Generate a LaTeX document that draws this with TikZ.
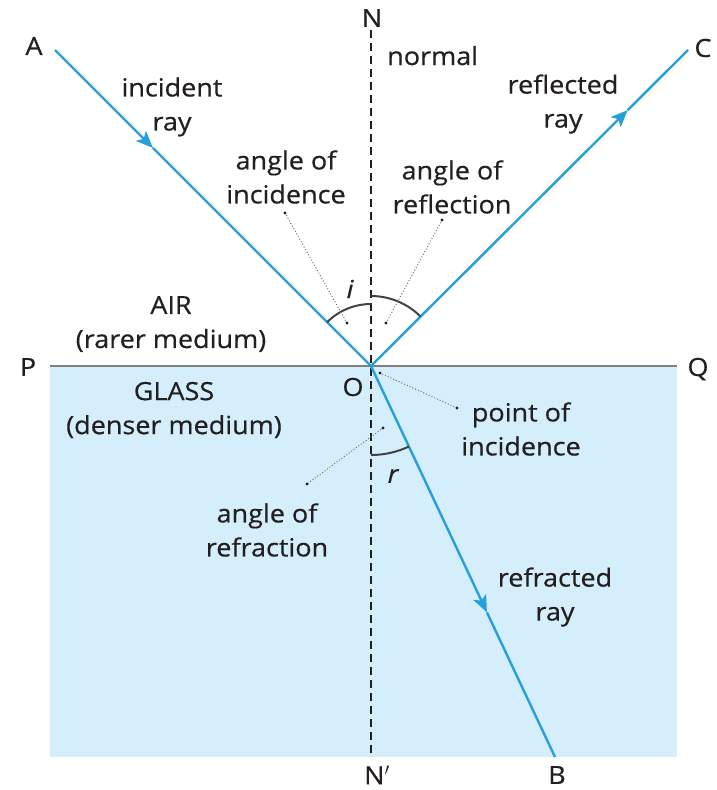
\documentclass[tikz,border=0pt]{standalone}
\usepackage{fontspec}
\setmainfont[FakeStretch=1.08, FakeBold=0.5]{Open Sans}
\usetikzlibrary{arrows.meta, calc}
\definecolor{RayBlue}{RGB}{38,160,218}
\definecolor{GlassBlue}{RGB}{213,238,251}
\definecolor{SurfaceGray}{RGB}{128,128,128}
\definecolor{InkDark}{RGB}{35,31,32}

\begin{document}
\begin{tikzpicture}[x=1pt, y=-1pt,
    lbl/.style={text=InkDark, font=\fontsize{25}{34}\selectfont, inner sep=0pt, align=center},
    ray/.style={RayBlue, line width=2.4pt},
    raytip/.style={ray, -{Stealth[length=17pt, width=14pt, inset=4pt]}},
    leader/.style={black!55, line width=1.4pt, dash pattern=on 0pt off 3pt, line cap=round},
    anglearc/.style={InkDark!85, line width=2pt}]

\useasboundingbox (0,0) rectangle (716,790);

% glass block and surface
\fill[GlassBlue] (50,366) rectangle (677,757);
\coordinate (Pend) at (50,366);
\coordinate (Qend) at (677,366);
\draw[SurfaceGray, line width=2.4pt] (Pend) -- (Qend);

% normal NN'
\coordinate (O) at (371,366);
\coordinate (Ntop) at (371,30);
\coordinate (Nbot) at (371,757);
\draw[InkDark, line width=2.4pt, dash pattern=on 8pt off 5pt] (Ntop) -- (Nbot);

% rays: A -> O -> C and O -> B
\coordinate (Aend) at (55,50);
\coordinate (Cend) at (688,50);
\coordinate (Bend) at (555,757);
\coordinate (Atip) at ($(Aend)!0.31!(O)$);
\coordinate (Ctip) at ($(O)!0.81!(Cend)$);
\coordinate (Btip) at ($(O)!0.63!(Bend)$);
\draw[raytip] (Aend) -- (Atip);
\draw[ray] (Atip) -- (O);
\draw[raytip] (O) -- (Ctip);
\draw[ray] (Ctip) -- (Cend);
\draw[raytip] (O) -- (Btip);
\draw[ray] (Btip) -- (Bend);

% angle arcs i, reflection, r
\draw[anglearc] ([shift={(225:62)}]O) arc[start angle=225, end angle=270, radius=62];
\draw[anglearc] ([shift={(270:70)}]O) arc[start angle=270, end angle=315, radius=70];
\draw[anglearc] ([shift={(90:89)}]O) arc[start angle=90, end angle=64.8, radius=89];

% leader lines
\coordinate (incOut) at (285,213);
\coordinate (incIn) at (347,323);
\coordinate (refOut) at (442,220);
\coordinate (refIn) at (386,323);
\coordinate (poiIn) at (380,373);
\coordinate (poiOut) at (457,408);
\coordinate (rfrIn) at (383,428);
\coordinate (rfrOut) at (307,484);
\draw[leader] (incOut) -- (incIn);
\draw[leader] (refOut) -- (refIn);
\draw[leader] (poiIn) -- (poiOut);
\draw[leader] (rfrIn) -- (rfrOut);
\foreach \c in {incOut,incIn,refOut,refIn,poiIn,poiOut,rfrIn,rfrOut}
    \fill[InkDark] (\c) circle (1.6pt);

% point letters
\node[lbl] (labA) at (34,46) {A};
\node[lbl] (labC) at (703,48) {C};
\node[lbl] (labN) at (372,18) {N};
\node[lbl] (labNp) at (377,775) {N$'$};
\node[lbl] (labB) at (557,775) {B};
\node[lbl] (labP) at (28,367) {P};
\node[lbl] (labQ) at (698,369) {Q};
\node[lbl] (labO) at (353,387) {O};
\node[lbl, font=\fontsize{25}{34}\selectfont\itshape] (labI) at (350,289) {i};
\node[lbl, font=\fontsize{25}{34}\selectfont\itshape] (labR) at (393,476) {r};

% text labels
\node[lbl, anchor=base west] (normal) at (387,65) {normal};
\node[lbl] (incRay) at (172,107) {incident\\ray};
\node[lbl] (refRay) at (563,104) {reflected\\ray};
\node[lbl] (angInc) at (286,177) {angle of\\incidence};
\node[lbl] (angRef) at (452,187) {angle of\\reflection};
\node[lbl] (air) at (171,324) {AIR\\(rarer medium)};
\node[lbl] (glass) at (174,410) {GLASS\\(denser medium)};
\node[lbl] (poi) at (521,429) {point of\\incidence};
\node[lbl] (angRfr) at (267,530) {angle of\\refraction};
\node[lbl] (rfrRay) at (555,597) {refracted\\ray};

\end{tikzpicture}
\end{document}
